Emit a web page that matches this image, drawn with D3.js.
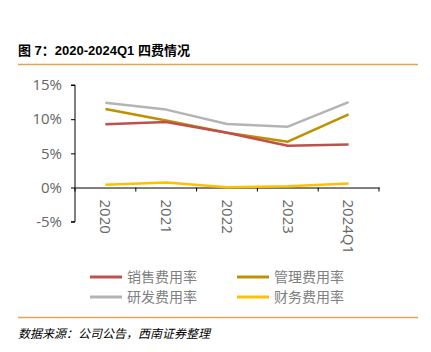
<!DOCTYPE html>
<html>
<head>
<meta charset="utf-8">
<script src="https://cdn.jsdelivr.net/npm/d3@7"></script>
<style>
  body { margin: 0; background: #fff; }
  svg { display: block; }
</style>
</head>
<body>
<div id="chart"></div>
<script>
// Chart data
const categories = ["2020", "2021", "2022", "2023", "2024Q1"];
const salesRate = [9.25, 9.6, 8.0, 6.1, 6.3];   // 销售费用率
const adminRate = [11.5, 9.8, 8.0, 6.7, 10.7];  // 管理费用率
const rdRate = [12.4, 11.4, 9.3, 8.9, 12.5];    // 研发费用率
const financeRate = [0.4, 0.75, 0.05, 0.2, 0.6]; // 财务费用率
const yTicks = [-5, 0, 5, 10, 15];

const series = [
  { name: "销售费用率", values: salesRate, color: "#C0504D" },
  { name: "管理费用率", values: adminRate, color: "#BF9000" },
  { name: "研发费用率", values: rdRate, color: "#B4B4B4" },
  { name: "财务费用率", values: financeRate, color: "#FFC000" },
];

const W = 431, H = 352;
const svg = d3.select("#chart")
  .append("svg")
  .attr("width", W)
  .attr("height", H);

// Title and rules
svg.append("text")
  .attr("x", 18)
  .attr("y", 55)
  .attr("font-family", "'Liberation Sans', 'Noto Sans CJK SC', sans-serif")
  .attr("font-weight", "bold")
  .attr("font-size", 13)
  .attr("fill", "#000")
  .attr("xml:space", "preserve")
  .text("图 7：2020-2024Q1 四费情况");

svg.append("line")
  .attr("x1", 18).attr("x2", 418)
  .attr("y1", 64.5).attr("y2", 64.5)
  .attr("stroke", "#E0A45C")
  .attr("stroke-width", 1.3);

svg.append("line")
  .attr("x1", 18).attr("x2", 418)
  .attr("y1", 317.5).attr("y2", 317.5)
  .attr("stroke", "#E0A45C")
  .attr("stroke-width", 1.3);

svg.append("text")
  .attr("x", 18)
  .attr("y", 338)
  .attr("font-family", "'Noto Sans CJK SC', sans-serif")
  .attr("font-style", "italic")
  .attr("font-size", 12)
  .attr("fill", "#000")
  .text("数据来源：公司公告，西南证券整理");

// Plot area
const x = d3.scaleBand()
  .domain(categories)
  .range([75, 379]);

const y = d3.scaleLinear()
  .domain([-5, 15])
  .range([221.7, 85]);

const tickFont = "'Open Sans', 'Liberation Sans', sans-serif";

// Y axis
const yAxis = svg.append("g")
  .attr("transform", "translate(75,0)")
  .call(d3.axisLeft(y).tickValues(yTicks).tickSize(4).tickFormat((d) => d + "%"));
yAxis.select(".domain").attr("stroke", "#000").attr("d", `M-4,${y(-5)}H0V${y(15)}H-4`);
yAxis.selectAll(".tick line").attr("stroke", "#000");
yAxis.selectAll(".tick text")
  .attr("x", -13)
  .attr("font-family", tickFont)
  .attr("font-size", 15)
  .attr("fill", "#666");

// X axis at zero
const xAxis = svg.append("g")
  .attr("transform", `translate(0,${y(0)})`)
  .call(d3.axisBottom(x).tickSize(0).tickFormat(""));
xAxis.select(".domain").attr("stroke", "#000");

// category tick marks at band edges
const edges = categories.map((c) => x(c)).concat([x.range()[1]]);
svg.append("g")
  .selectAll("line")
  .data(edges)
  .enter()
  .append("line")
  .attr("x1", (d) => d).attr("x2", (d) => d)
  .attr("y1", y(0)).attr("y2", y(0) + 4)
  .attr("stroke", "#000");

// rotated category labels
svg.append("g")
  .selectAll("text")
  .data(categories)
  .enter()
  .append("text")
  .attr("transform", (d) => `translate(${x(d) + x.bandwidth() / 2},${y(0) + 12}) rotate(90)`)
  .attr("dy", "0.35em")
  .attr("font-family", tickFont)
  .attr("font-size", 15)
  .attr("fill", "#666")
  .text((d) => d);

// Lines
const line = d3.line()
  .x((d, i) => x(categories[i]) + x.bandwidth() / 2)
  .y((d) => y(d));

const drawOrder = [series[2], series[1], series[0], series[3]];
svg.append("g")
  .selectAll("path")
  .data(drawOrder)
  .enter()
  .append("path")
  .attr("d", (d) => line(d.values))
  .attr("fill", "none")
  .attr("stroke", (d) => d.color)
  .attr("stroke-width", 2.5)
  .attr("stroke-linejoin", "round");

// Legend
const legend = svg.append("g")
  .selectAll("g")
  .data(series)
  .enter()
  .append("g")
  .attr("transform", (d, i) => `translate(${i % 2 === 0 ? 90 : 237},${i < 2 ? 277 : 297})`);

legend.append("line")
  .attr("x1", 0).attr("x2", 32)
  .attr("stroke", (d) => d.color)
  .attr("stroke-width", 3);

legend.append("text")
  .attr("x", 37)
  .attr("dy", "0.35em")
  .attr("font-family", "'Noto Sans CJK SC', sans-serif")
  .attr("font-size", 14)
  .attr("fill", "#808080")
  .text((d) => d.name);
</script>
</body>
</html>
